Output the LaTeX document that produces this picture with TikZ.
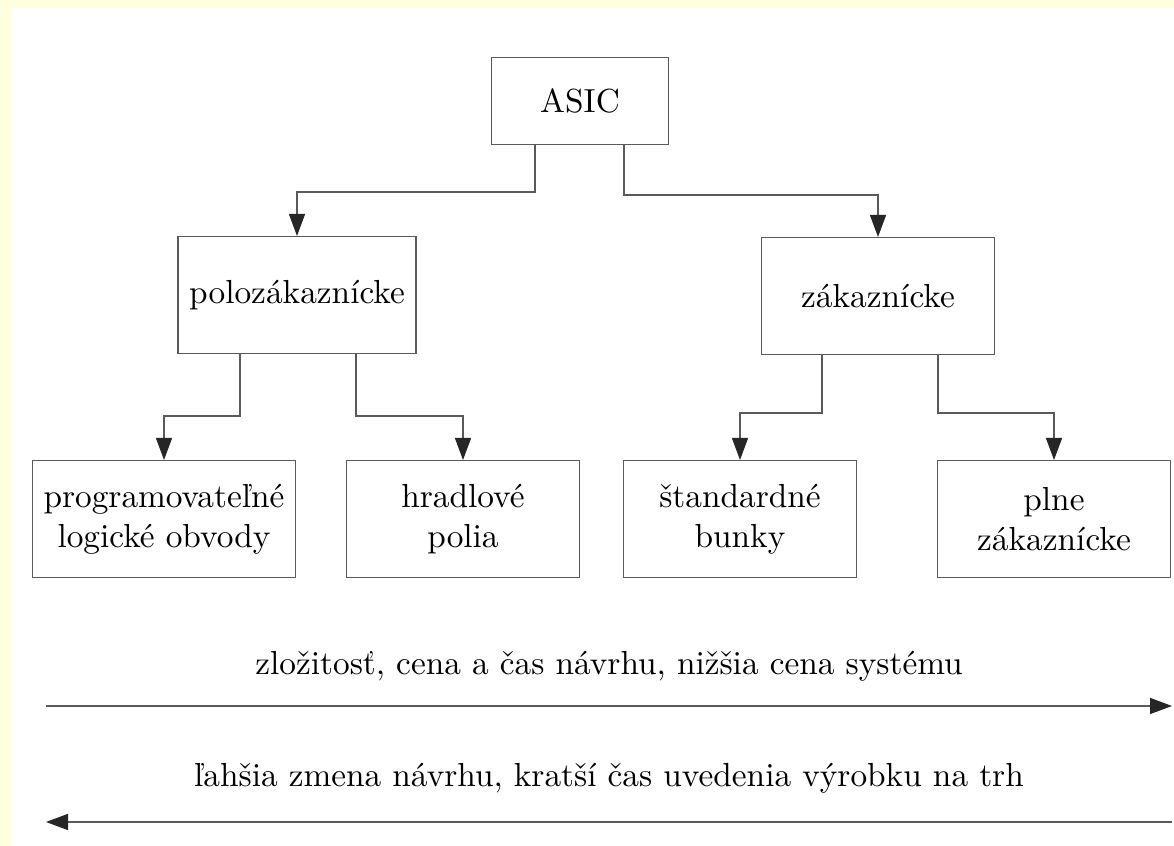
\documentclass[tikz,border=0pt]{standalone}
\usepackage{fontspec}
\usetikzlibrary{arrows.meta,calc}
\definecolor{pozadie}{HTML}{FFFFDD}
\definecolor{ciara}{HTML}{5A5A5A}
\tikzset{
  blok/.style={draw=ciara, line width=0.4pt, minimum width=70pt, minimum height=35pt, align=center},
  spoj/.style={draw=ciara, line width=0.4pt, -{Triangle[length=6.6pt,width=4.8pt,color=black!85]}},
}
\begin{document}
\begin{tikzpicture}[x=0.3pt,y=-0.3pt]
  \fill[pozadie] (0,0) rectangle (1174,846);
  \fill[white] (11,8) rectangle (1174,846);

  \node[blok, minimum width=53pt, minimum height=26pt] (asic) at (580,101) {ASIC};
  \node[blok] (polo) at (297,295) {polozákaznícke};
  \node[blok] (zak) at (878,296) {zákaznícke};
  \node[blok] (prog) at (164,519) {programovateľné\\logické obvody};
  \node[blok] (hrad) at (463,519) {hradlové\\polia};
  \node[blok] (stand) at (740,519) {štandardné\\bunky};
  \node[blok] (plne) at (1054,519) {plne\\zákaznícke};

  \draw[spoj] ($(asic.south)+(-45,0)$) -- ++(0,47) -| (polo.north);
  \draw[spoj] ($(asic.south)+(44,0)$) -- ++(0,50) -| (zak.north);
  \draw[spoj] ($(polo.south)+(-57,0)$) -- ++(0,62) -| (prog.north);
  \draw[spoj] ($(polo.south)+(59,0)$) -- ++(0,62) -| (hrad.north);
  \draw[spoj] ($(zak.south)+(-56,0)$) -- ++(0,58) -| (stand.north);
  \draw[spoj] ($(zak.south)+(60,0)$) -- ++(0,58) -| (plne.north);

  \coordinate (hore1) at (46,706);
  \coordinate (hore2) at (1172,706);
  \coordinate (dole1) at (1172,822);
  \coordinate (dole2) at (46,822);
  \draw[spoj] (hore1) -- (hore2) node[midway, above=4pt, text=black] {zložitosť, cena a čas návrhu, nižšia cena systému};
  \draw[spoj] (dole1) -- (dole2) node[midway, above=5pt, text=black] {ľahšia zmena návrhu, kratší čas uvedenia výrobku na trh};
\end{tikzpicture}
\end{document}
